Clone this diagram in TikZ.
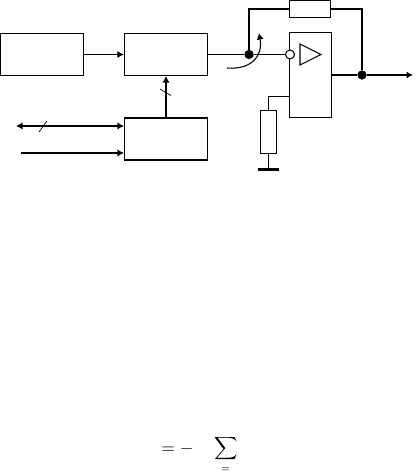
\documentclass[tikz,border=0pt]{standalone}
\usepackage{amsmath}
\usepackage{amssymb}
\usetikzlibrary{arrows.meta}
\tikzset{>={Latex[length=1.3mm,width=1.4mm]},
  blockbox/.style={draw,line width=0.6pt,inner sep=0pt,minimum width=1.66cm,minimum height=0.84cm},
  wire/.style={line width=0.6pt},
  soliddot/.style={circle,draw,fill=black,inner sep=0pt,minimum size=0.17cm},
  opendot/.style={circle,draw,fill=white,line width=0.6pt,inner sep=0pt,minimum size=0.18cm}}
\begin{document}
\begin{tikzpicture}
\useasboundingbox (0,0) rectangle (8.3,9.5);

%blocks
\node[blockbox] (source) at (0.835,8.41) {};
\node[blockbox] (mixer) at (3.32,8.41) {};
\node[blockbox] (control) at (3.32,6.72) {};
\node[blockbox,minimum width=0.84cm,minimum height=1.7cm] (amp) at (6.21,8) {};
\node[blockbox,minimum width=0.82cm,minimum height=0.33cm] (feedback) at (6.2,9.32) {};
\node[blockbox,minimum width=0.32cm,minimum height=0.85cm] (load) at (5.37,6.86) {};

\node[soliddot] (junction) at (4.98,8.41) {};
\node[opendot] (invert) at (5.8,8.41) {};
\node[soliddot] (outdot) at (7.24,8) {};

\coordinate (outend) at (8.26,8);
\coordinate (ampin) at (5.79,7.57);
\coordinate (earth) at (5.37,6.11);
\coordinate (earthl) at (5.16,6.11);
\coordinate (earthr) at (5.58,6.11);
\coordinate (busend) at (0.32,6.98);
\coordinate (sigend) at (0.42,6.44);

%wires
\draw[->,wire] (source)--(mixer);
\draw[->,wire] (control)--(mixer);
\draw[wire] (mixer)--(junction);
\draw[wire] (junction)--(invert);
\draw[wire] (junction) |- (feedback);
\draw[wire] (feedback) -| (outdot);
\draw[wire] (amp.east |- outdot)--(outdot);
\draw[->,wire] (outdot)--(outend);
\draw[wire] (ampin) -| (load.north);
\draw[wire] (load)--(earth);
\draw[line width=1.2pt] (earthl)--(earthr);
\draw[<->,wire] (busend)--(control.west |- busend);
\draw[->,wire] (sigend)--(control.west |- sigend);

%ticks
\draw (0.78,6.86)--(0.94,7.08);
\draw (3.2,7.72)--(3.42,7.59);

%triangle and the curved arrow
\draw[wire] (6,8.62)--(6,8.2)--(6.42,8.41)--cycle;
\draw[->,wire] (4.54,8.14) .. controls (5.05,8.1) and (5.26,8.4) .. (5.18,8.84);

%formula
\node at (3.55,0.52) {$=-$};
\node at (4.52,0.52) {\small$\displaystyle\sum$};
\node at (4.51,0.1) {\tiny$=$};
\end{tikzpicture}
\end{document}
